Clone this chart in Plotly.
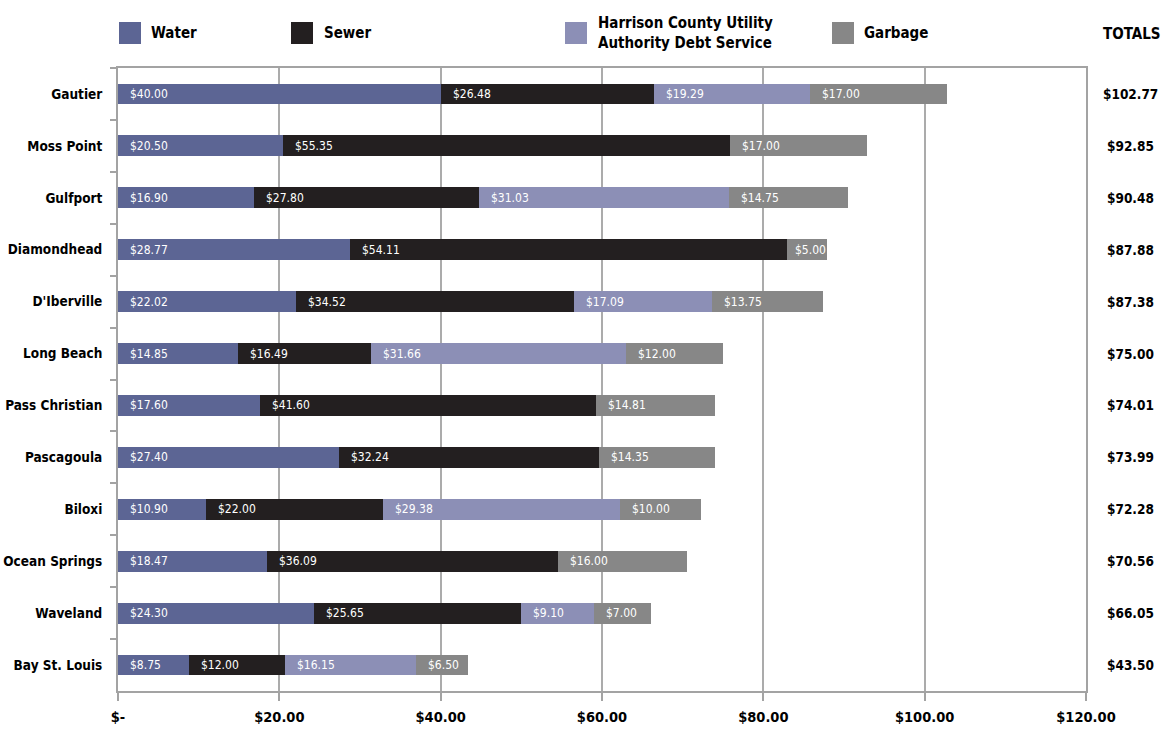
import plotly.graph_objects as go

cities = ["Gautier", "Moss Point", "Gulfport", "Diamondhead", "D'Iberville", "Long Beach",
          "Pass Christian", "Pascagoula", "Biloxi", "Ocean Springs", "Waveland", "Bay St. Louis"]
water = [40.00, 20.50, 16.90, 28.77, 22.02, 14.85, 17.60, 27.40, 10.90, 18.47, 24.30, 8.75]
sewer = [26.48, 55.35, 27.80, 54.11, 34.52, 16.49, 41.60, 32.24, 22.00, 36.09, 25.65, 12.00]
hcua = [19.29, 0, 31.03, 0, 17.09, 31.66, 0, 0, 29.38, 0, 9.10, 16.15]
garbage = [17.00, 17.00, 14.75, 5.00, 13.75, 12.00, 14.81, 14.35, 10.00, 16.00, 7.00, 6.50]
totals = ["$102.77", "$92.85", "$90.48", "$87.88", "$87.38", "$75.00",
          "$74.01", "$73.99", "$72.28", "$70.56", "$66.05", "$43.50"]
tick_vals = [0, 20, 40, 60, 80, 100, 120]
tick_text = ["$-", "$20.00", "$40.00", "$60.00", "$80.00", "$100.00", "$120.00"]

series = [
    ("Water", water, "#5c6594"),
    ("Sewer", sewer, "#231f20"),
    ("Harrison County Utility<br>Authority Debt Service", hcua, "#8c8fb6"),
    ("Garbage", garbage, "#878787"),
]

FONT = "DejaVu Sans Condensed, Liberation Sans Narrow, Roboto Condensed, sans-serif"

# layout geometry
L, R, T, B = 118, 75, 68, 46
W, H = 1161, 737
PW = W - L - R
PH = H - T - B
XMAX = 120
px_per_unit = PW / XMAX

fig = go.Figure()
for name, vals, col in series:
    fig.add_trace(go.Bar(y=cities, x=vals, name=name, orientation="h",
                         marker=dict(color=col, line=dict(width=0)), width=0.4,
                         showlegend=False, hoverinfo="x+y"))

annotations = []
# segment labels (left aligned, nudged so they stay inside short segments)
base = [0.0] * len(cities)
for name, vals, col in series:
    for i, v in enumerate(vals):
        if v > 0:
            txt = f"${v:.2f}"
            seg_px = v * px_per_unit
            est_w = len(txt) * 6.2
            shift = max(2, min(10, seg_px - est_w - 3))
            annotations.append(dict(x=base[i], y=cities[i], xref="x", yref="y",
                                    text=txt, showarrow=False, xanchor="left",
                                    yanchor="middle", xshift=shift,
                                    font=dict(family=FONT, size=12, color="white")))
        base[i] += v

# totals
x_tot = (1130 - L) / PW
for c, t in zip(cities, totals):
    annotations.append(dict(x=x_tot, y=c, xref="paper", yref="y", text=t, showarrow=False,
                            xanchor="center", yanchor="middle",
                            font=dict(family=FONT, size=13.5, color="black", weight="bold")))
annotations.append(dict(x=(1131 - L) / PW, y=(H - B - 34) / PH, xref="paper", yref="paper",
                        text="TOTALS", showarrow=False, xanchor="center", yanchor="middle",
                        font=dict(family=FONT, size=15, color="black", weight="bold")))

# custom legend
shapes = []
leg_pos = [(119, 149), (291, 322), (565, 596), (832, 862)]
y0 = (H - B - 44) / PH
y1 = (H - B - 22) / PH
ym = (H - B - 33) / PH
for (sx, tx), (name, vals, col) in zip(leg_pos, series):
    shapes.append(dict(type="rect", xref="paper", yref="paper",
                       x0=(sx - L) / PW, x1=(sx + 22 - L) / PW, y0=y0, y1=y1,
                       fillcolor=col, line=dict(width=0)))
    annotations.append(dict(x=(tx - L) / PW, y=ym, xref="paper", yref="paper", text=name,
                            showarrow=False, xanchor="left", yanchor="middle", align="left",
                            font=dict(family=FONT, size=15, color="black", weight="bold")))

fig.update_layout(
    barmode="stack",
    width=W, height=H,
    margin=dict(l=L, r=R, t=T, b=B, autoexpand=False),
    paper_bgcolor="white", plot_bgcolor="white",
    annotations=annotations, shapes=shapes,
    font=dict(family=FONT, color="black"),
)
fig.update_xaxes(range=[0, XMAX], tickvals=tick_vals, ticktext=tick_text,
                 showgrid=True, gridcolor="#ababab", gridwidth=1.5,
                 showline=True, linecolor="#a3a3a3", linewidth=2, mirror=True,
                 ticks="outside", ticklen=8, tickcolor="#a3a3a3", tickwidth=1.5,
                 tickfont=dict(family=FONT, size=14.5, color="black", weight="bold"),
                 ticklabelstandoff=4,
                 zeroline=False, fixedrange=True, automargin=False)
fig.update_yaxes(categoryorder="array", categoryarray=cities, autorange="reversed",
                 showline=True, linecolor="#a3a3a3", linewidth=2, mirror=True,
                 ticks="outside", tickson="boundaries", ticklen=6, tickcolor="#a3a3a3", tickwidth=1.5,
                 tickfont=dict(family=FONT, size=13.5, color="black", weight="bold"),
                 ticklabelstandoff=11,
                 showgrid=False, fixedrange=True, automargin=False)

fig.write_html("out.html")
